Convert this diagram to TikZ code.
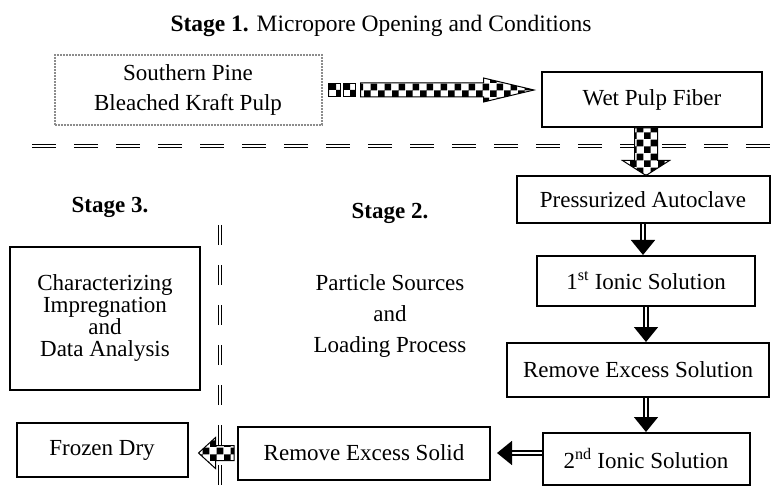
\documentclass[tikz,border=0pt]{standalone}
\usepackage{fontspec}
\setmainfont{Liberation Serif}
\usetikzlibrary{patterns,calc,arrows.meta}

\pgfdeclarepatternformonly{bigchecks}{\pgfpointorigin}{\pgfqpoint{14pt}{14pt}}{\pgfqpoint{14pt}{14pt}}{%
  \pgfpathrectangle{\pgfpointorigin}{\pgfqpoint{7pt}{7pt}}%
  \pgfpathrectangle{\pgfqpoint{7pt}{7pt}}{\pgfqpoint{7pt}{7pt}}%
  \pgfusepath{fill}}

\begin{document}
\begin{tikzpicture}[x=1pt,y=-1pt,
  txt/.style={font=\fontsize{23}{30}\selectfont, align=center, inner sep=0pt},
  stagetxt/.style={txt, font=\bfseries\fontsize{23}{30}\selectfont},
  box/.style={txt, draw, line width=2pt, fill=white},
  checkfill/.style={draw, line width=1pt, preaction={fill=white}, pattern=bigchecks},
  dblarrow/.style={draw, double, line width=1.5pt, double distance=2.5pt, -{Triangle[length=15pt,width=24pt]}},
  stagedash/.style={draw, double, line width=1.3pt, double distance=1.6pt}]
		\useasboundingbox (0,0) rectangle (771,489);

		% Draw stage borders
		\draw[stagedash, dash pattern=on 24pt off 18pt] (32,146) -- (771,146);
		\draw[stagedash, dash pattern=on 20pt off 20pt] (220,225) -- (220,489);

		% Stage labels
		\node[txt, font=\fontsize{23.5}{30}\selectfont] (title) at (381,26) {\textbf{Stage 1.} Micropore Opening and Conditions};
		\node[stagetxt] (stage2) at (390,213) {Stage 2.};
		\node[stagetxt] (stage3) at (110,207) {Stage 3.};
		\node[txt, font=\fontsize{23}{31}\selectfont] (particle) at (390,316) {Particle Sources\\and\\Loading Process};

		% Process boxes
		\node[box, draw=black!45, densely dotted, minimum width=267pt, minimum height=70pt] (pine) at (188,90) {Southern Pine\\Bleached Kraft Pulp};
		\node[box, minimum width=220pt, minimum height=55pt] (wet) at (652,99.5) {Wet Pulp Fiber};
		\node[box, minimum width=253pt, minimum height=47pt] (auto) at (643,200) {Pressurized Autoclave};
		\node[box, minimum width=218pt, minimum height=50pt] (ion1) at (646,281) {1\textsuperscript{st} Ionic Solution};
		\node[box, minimum width=262pt, minimum height=54pt] (exsol) at (638,370) {Remove Excess Solution};
		\node[box, minimum width=207pt, minimum height=52pt] (ion2) at (646,459) {2\textsuperscript{nd} Ionic Solution};
		\node[box, minimum width=252pt, minimum height=53pt] (exsolid) at (364,453) {Remove Excess Solid};
		\node[box, minimum width=171pt, minimum height=54pt] (frozen) at (102,450) {Frozen Dry};
		\node[box, font=\fontsize{23}{22}\selectfont, minimum width=190pt, minimum height=143pt] (charact) at (105,318) {Characterizing\\Impregnation\\and\\Data Analysis};

		% Checkered block arrows
		\coordinate (tipA) at ($(wet.west |- pine.east)+(-7,0)$);
		\foreach \dx in {6, 21}
			\draw[checkfill] ($(pine.east)+(\dx,-6.5)$) rectangle ++(12,13);
		\draw[checkfill] ($(pine.east)+(38,-7)$) -- ($(pine.east)+(161,-7)$) -- ($(pine.east)+(161,-12)$) -- (tipA)
			-- ($(pine.east)+(161,12)$) -- ($(pine.east)+(161,7)$) -- ($(pine.east)+(38,7)$) -- cycle;

		\coordinate (dnA) at ($(wet.south)+(-6,0)$);
		\coordinate (tipB) at (dnA |- auto.north);
		\draw[checkfill] ($(dnA)+(-11.5,0)$) -- ($(dnA)+(11.5,0)$) -- ($(tipB)+(11.5,-15)$) -- ($(tipB)+(23.5,-15)$) -- (tipB)
			-- ($(tipB)+(-23.5,-15)$) -- ($(tipB)+(-11.5,-15)$) -- cycle;

		\coordinate (tipC) at ($(frozen.east |- exsolid.west)+(10,0)$);
		\draw[checkfill] ($(exsolid.west)+(-3,-7.5)$) -- ($(tipC)+(17,-7.5)$) -- ($(tipC)+(17,-15.5)$) -- (tipC)
			-- ($(tipC)+(17,15.5)$) -- ($(tipC)+(17,7.5)$) -- ($(exsolid.west)+(-3,7.5)$) -- cycle;

		% Double line arrows
		\draw[dblarrow] (auto.south) -- (auto.south |- ion1.north);
		\draw[dblarrow] (ion1.south) -- (ion1.south |- exsol.north);
		\draw[dblarrow] (ion2.north |- exsol.south) -- (ion2.north);
		\draw[dblarrow, shorten >=6pt] (ion2.west |- exsolid.east) -- (exsolid.east);
	\end{tikzpicture}
\end{document}
